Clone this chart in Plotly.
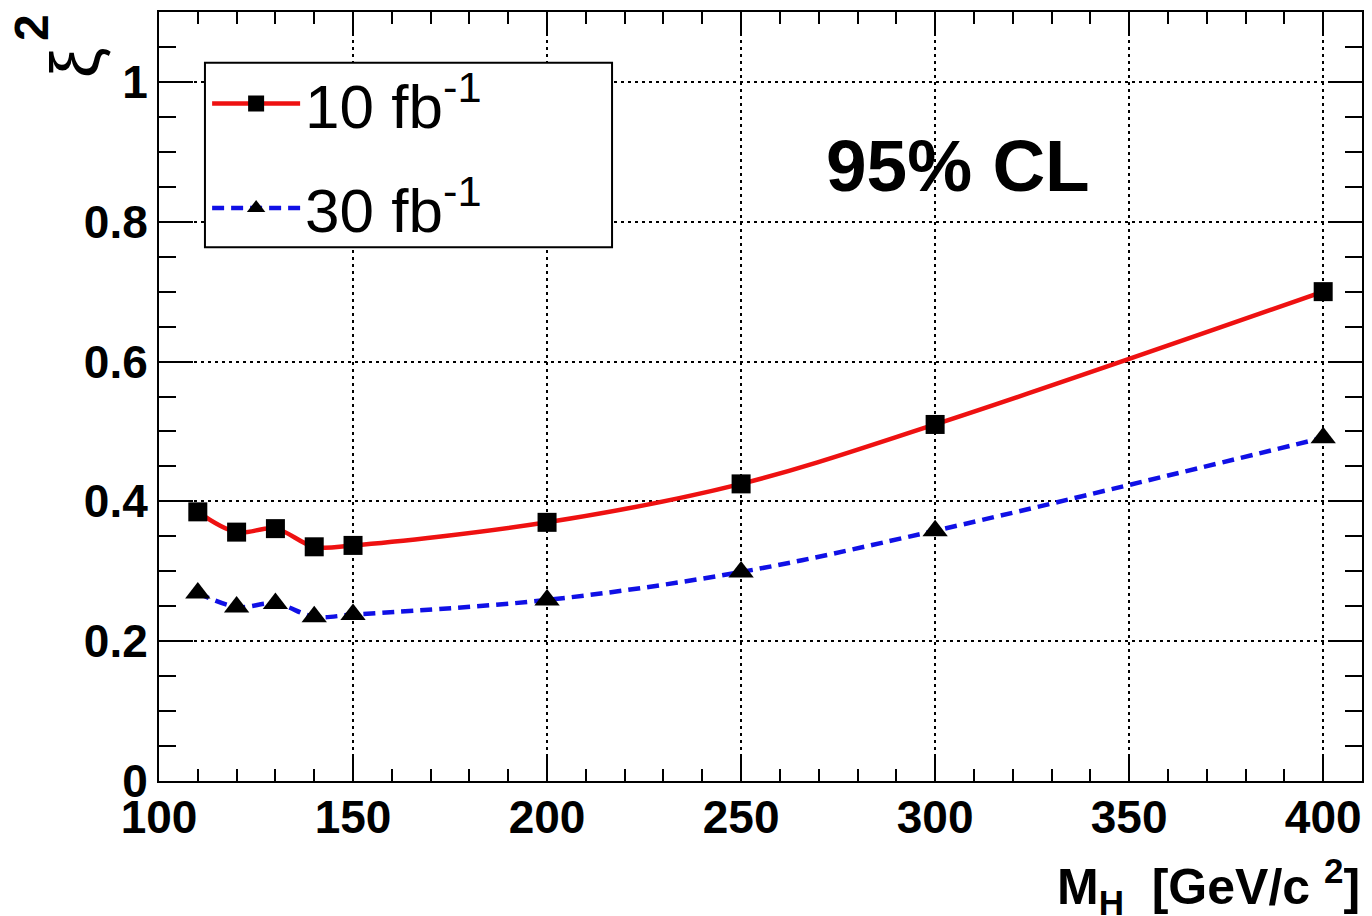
import plotly.graph_objects as go

# ---- data ----
mass = [110, 120, 130, 140, 150, 200, 250, 300, 400]
xi2_10fb = [0.385, 0.356, 0.361, 0.335, 0.337, 0.370, 0.425, 0.510, 0.700]
xi2_30fb = [0.269, 0.249, 0.254, 0.235, 0.238, 0.259, 0.299, 0.358, 0.491]
series_names = ["10 fb<sup>-1</sup>", "30 fb<sup>-1</sup>"]
x_ticks = [100, 150, 200, 250, 300, 350, 400]
y_ticks = [0, 0.2, 0.4, 0.6, 0.8, 1.0]

FONT = "Liberation Sans, Arial, Helvetica, sans-serif"

fig = go.Figure()
fig.add_trace(go.Scatter(
    x=mass, y=xi2_10fb, name=series_names[0], mode="lines+markers",
    line=dict(color="#ee1111", width=4.5, shape="spline"),
    marker=dict(symbol="square", size=19, color="black"),
    legendgroup="a",
))
fig.add_trace(go.Scatter(
    x=mass, y=xi2_30fb, name=series_names[1], mode="lines+markers",
    line=dict(color="#1010e6", width=4.5, shape="spline", dash="12px,7px"),
    marker=dict(symbol="triangle-up", size=22, color="black"),
    legendgroup="b",
))

axis_common = dict(
    showline=True, linecolor="black", linewidth=2, mirror="allticks",
    ticks="inside", tickcolor="black", tickwidth=2,
    showgrid=True, gridcolor="black", gridwidth=2, griddash="3px,4px",
    zeroline=False, automargin=False,
    tickfont=dict(family=FONT, size=46, color="black", weight="bold"),
)

fig.update_xaxes(
    range=[100, 410], tickvals=x_ticks, ticktext=[str(v) for v in x_ticks],
    ticklen=24, ticklabelstandoff=-5,
    minor=dict(dtick=10, tick0=100, ticklen=12, ticks="inside", tickwidth=2,
               tickcolor="black", showgrid=False),
    **axis_common,
)
fig.update_yaxes(
    range=[0, 1.1], tickvals=y_ticks, ticktext=["0", "0.2", "0.4", "0.6", "0.8", "1"],
    ticklen=34, ticklabelstandoff=0,
    minor=dict(dtick=0.05, tick0=0, ticklen=17, ticks="inside", tickwidth=2,
               tickcolor="black", showgrid=False),
    **axis_common,
)

fig.add_annotation(
    x=306, y=0.880, xref="x", yref="y", text="95% CL", showarrow=False,
    font=dict(family=FONT, size=73, color="black", weight="bold"),
)
fig.add_annotation(
    x=1, y=0, xref="paper", yref="paper", xanchor="right", yanchor="middle",
    xshift=0, yshift=-105,
    text="M<sub>H</sub>&nbsp;&nbsp;[GeV/c&nbsp;<sup>2</sup>]", showarrow=False,
    font=dict(family=FONT, size=50, color="black", weight="bold"),
)
# y-axis title: xi squared, rotated (ROOT style, top of axis)
fig.add_annotation(
    x=0, y=1, xref="paper", yref="paper", xanchor="center", yanchor="middle",
    xshift=-84, yshift=-51, textangle=-90,
    text="ξ", showarrow=False,
    font=dict(family=FONT, size=68, color="black"),
)
fig.add_annotation(
    x=0, y=1, xref="paper", yref="paper", xanchor="center", yanchor="middle",
    xshift=-128, yshift=-16, textangle=-90,
    text="2", showarrow=False,
    font=dict(family=FONT, size=48, color="black", weight="bold"),
)

# legend frame (ROOT TLegend style box)
fig.add_shape(
    type="rect", xref="paper", yref="paper",
    x0=0.0382, x1=0.3766, y0=0.694, y1=0.934,
    line=dict(color="black", width=2), fillcolor="white", layer="above",
)

fig.update_layout(
    width=1356, height=908,
    margin=dict(l=151, r=2, t=4, b=135),
    paper_bgcolor="white", plot_bgcolor="white",
    showlegend=True,
    legend=dict(
        x=0.040, y=0.942, xanchor="left", yanchor="top",
        bgcolor="rgba(0,0,0,0)", borderwidth=0,
        font=dict(family=FONT, size=62, color="black"),
        traceorder="grouped", tracegroupgap=21,
        itemwidth=88,
    ),
)

fig.write_html("out.html")
